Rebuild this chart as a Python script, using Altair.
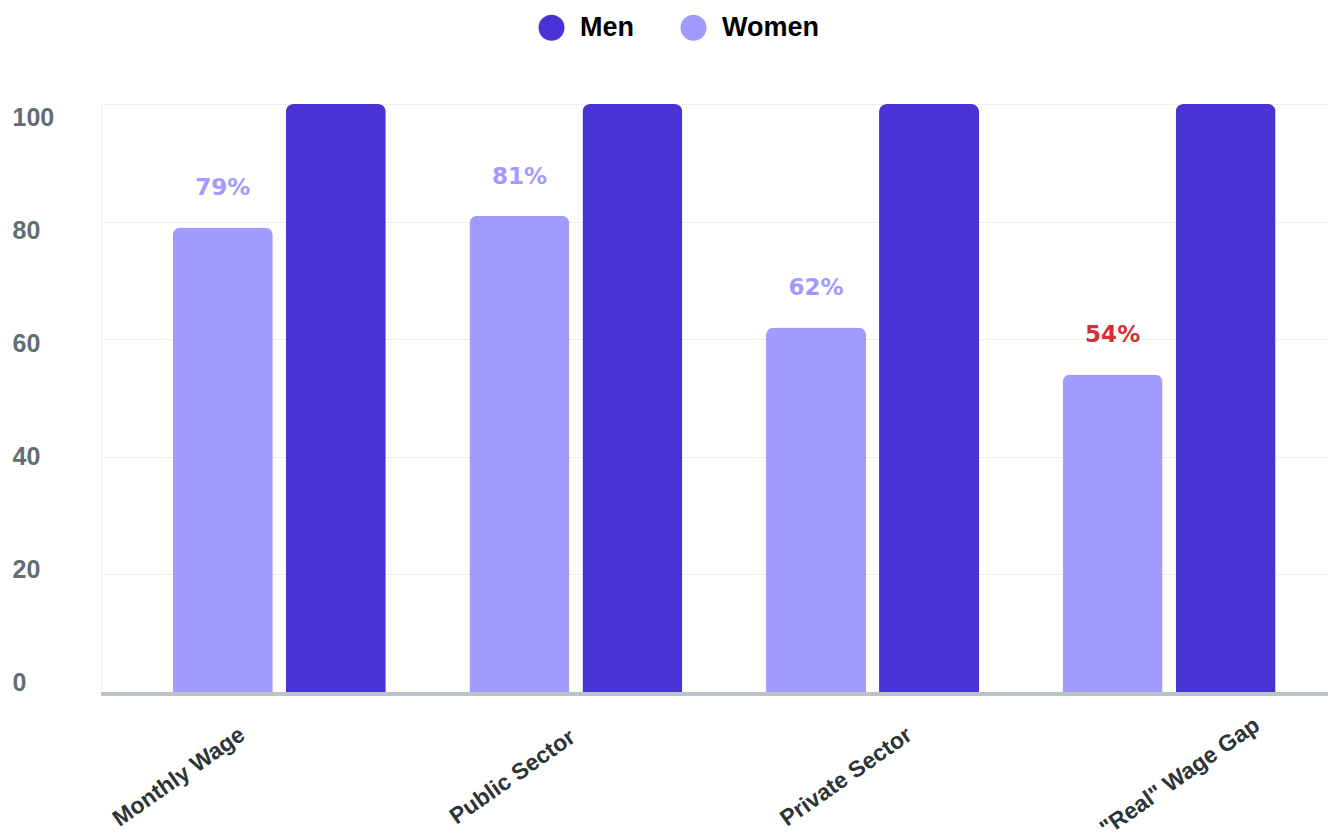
import altair as alt
import pandas as pd

categories = ["Monthly Wage", "Public Sector", "Private Sector", '"Real" Wage Gap']
women = [79, 81, 62, 54]
men = [100, 100, 100, 100]
women_labels = ["79%", "81%", "62%", "54%"]
highlight = [False, False, False, True]
y_ticks = [0, 20, 40, 60, 80, 100]

MEN_C = "#4834d4"
WOMEN_C = "#a29bfe"

rows = []
for c, w, m in zip(categories, women, men):
    rows.append({"category": c, "gender": "Women", "value": w})
    rows.append({"category": c, "gender": "Men", "value": m})
df = pd.DataFrame(rows)

lab = pd.DataFrame({"category": categories, "gender": ["Women"] * 4,
                    "value": women, "label": women_labels, "hl": highlight})
cat_df = pd.DataFrame({"category": categories})
base_df = pd.DataFrame({"value": [0]})

xscale = alt.Scale(domain=categories, paddingInner=0, paddingOuter=0.0684, align=0.74)
xoff_scale = alt.Scale(domain=["Women", "Men"], paddingInner=0.115, paddingOuter=0.37)
yscale = alt.Scale(domain=[0, 100])

bars = alt.Chart(df).mark_bar(cornerRadiusTopLeft=8, cornerRadiusTopRight=8).encode(
    x=alt.X("category:N", scale=xscale, sort=categories,
            axis=alt.Axis(title=None, labels=False, ticks=False, grid=False, domain=False)),
    xOffset=alt.XOffset("gender:N", scale=xoff_scale),
    y=alt.Y("value:Q", scale=yscale,
            axis=alt.Axis(title=None, values=y_ticks, ticks=False, tickSize=0,
                          grid=True, gridColor="#eeeeee", gridWidth=1,
                          domainColor="#eeeeee", domainWidth=1,
                          labelFont="Liberation Sans", labelFontSize=25,
                          labelFontWeight="bold", labelColor="#636e72",
                          labelAlign="left", labelPadding=89,
                          labelOffset={"condition": {"test": "datum.value > 1000", "value": 0},
                                       "expr": "datum.value * 0.23 - 10"})),
    color=alt.Color("gender:N",
                    scale=alt.Scale(domain=["Men", "Women"], range=[MEN_C, WOMEN_C]),
                    legend=alt.Legend(orient="none", legendX=437, legendY=-90,
                                      direction="horizontal", title=None,
                                      symbolType="circle", symbolSize=676,
                                      symbolStrokeWidth=0, symbolOpacity=1,
                                      labelFont="Liberation Sans", labelFontSize=27,
                                      labelFontWeight="bold", labelColor="#000000",
                                      labelOffset=15, columnPadding=46, padding=0)),
)

baseline = alt.Chart(base_df).mark_rule(color="#b8c4c6", strokeWidth=4, yOffset=2).encode(
    y=alt.Y("value:Q", scale=yscale),
)

pct = alt.Chart(lab).mark_text(font="DejaVu Sans", fontSize=23, fontWeight="bold",
                               baseline="middle", align="center", dy=-39).encode(
    x=alt.X("category:N", scale=xscale, sort=categories, axis=None),
    xOffset=alt.XOffset("gender:N", scale=xoff_scale),
    y=alt.Y("value:Q", scale=yscale),
    text="label:N",
    color=alt.condition("datum.hl", alt.value("#d63031"), alt.value(WOMEN_C)),
)

inner = alt.layer(bars, baseline, pct)

xlabels = alt.Chart(cat_df).mark_text(font="Liberation Sans", fontSize=23, fontWeight="bold",
                                      color="#2d3436", angle=325, align="center",
                                      baseline="middle").encode(
    x=alt.X("category:N", sort=categories,
            scale=alt.Scale(type="point", domain=categories, range=[78, 1079], padding=0),
            axis=None),
    y=alt.value(673),
    text="category:N",
)

chart = alt.layer(inner, xlabels).resolve_scale(x="independent").properties(
    width=1227, height=588,
    autosize=alt.AutoSizeParams(type="none"),
    padding={"left": 93, "top": 96, "right": 0, "bottom": 138},
).configure_view(strokeWidth=0)

chart.save("out.html", embed_options={"renderer": "svg", "actions": False})
